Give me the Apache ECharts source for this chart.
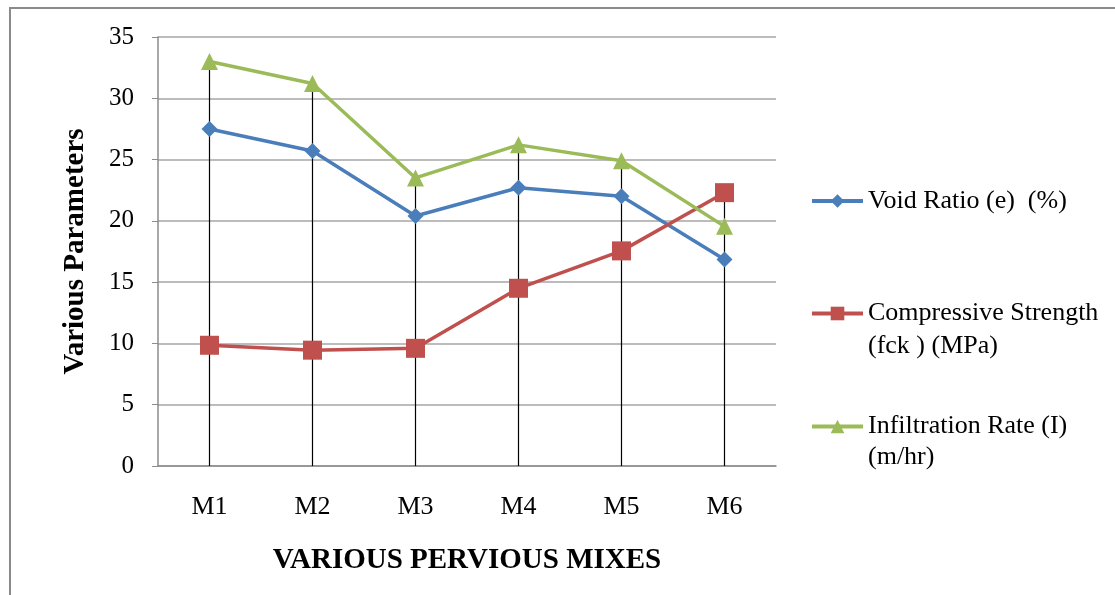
<!DOCTYPE html>
<html>
<head>
<meta charset="utf-8">
<script src="https://cdn.jsdelivr.net/npm/echarts@6/dist/echarts.min.js"></script>
<style>
html,body{margin:0;padding:0;background:#fff;}
#c{width:1115px;height:595px;}
</style>
</head>
<body>
<div id="c"></div>
<script>
const categories = ['M1', 'M2', 'M3', 'M4', 'M5', 'M6'];
const voidRatio = [27.5, 25.7, 20.4, 22.7, 22.0, 16.85];
const compressiveStrength = [9.85, 9.45, 9.6, 14.5, 17.55, 22.3];
const infiltrationRate = [33.0, 31.2, 23.5, 26.2, 24.9, 19.55];
const seriesNames = ['Void Ratio (e)  (%)', 'Compressive Strength (fck ) (MPa)', 'Infiltration Rate (I) (m/hr)'];
const legendLabels = ['Void Ratio (e)  (%)', ' \nCompressive Strength\n(fck ) (MPa)', ' \nInfiltration Rate (I)\n(m/hr)'];
const yTicks = [0, 5, 10, 15, 20, 25, 30, 35];

const dropHeights = categories.map((_, i) => Math.max(voidRatio[i], compressiveStrength[i], infiltrationRate[i]));

const FONT = '"Liberation Serif", "Times New Roman", serif';
const colors = ['#4a7ebb', '#c0504d', '#9bbb59'];

const chart = echarts.init(document.getElementById('c'), null, {renderer: 'canvas'});

function legendFor(idx, top, lh) {
  return {
    orient: 'vertical',
    left: 810,
    top: top,
    padding: 0,
    data: [seriesNames[idx]],
    itemWidth: 51,
    itemHeight: 17,
    itemGap: 0,
    selectedMode: false,
    lineStyle: {width: 4},
    formatter: () => legendLabels[idx],
    textStyle: {
      fontFamily: FONT,
      fontSize: 26,
      color: '#000',
      lineHeight: lh
    }
  };
}

chart.setOption({
  animation: false,
  backgroundColor: '#fff',
  graphic: [{
    type: 'rect',
    shape: {x: 10, y: 8, width: 1200, height: 700},
    style: {fill: 'none', stroke: '#8a8a8a', lineWidth: 2},
    silent: true
  }],
  legend: [
    legendFor(0, 186, 30),
    legendFor(1, 264, 33),
    legendFor(2, 380, 31)
  ],
  grid: {left: 158, right: 339, top: 37, bottom: 129},
  xAxis: {
    type: 'category',
    data: categories,
    boundaryGap: true,
    axisLine: {lineStyle: {color: '#8c8c8c', width: 1.5}},
    axisTick: {show: false},
    axisLabel: {fontFamily: FONT, fontSize: 26, color: '#000', margin: 28},
    name: 'VARIOUS PERVIOUS MIXES',
    nameLocation: 'middle',
    nameGap: 80,
    nameTextStyle: {fontFamily: FONT, fontSize: 29, fontWeight: 'bold', color: '#000'}
  },
  yAxis: {
    type: 'value',
    min: yTicks[0],
    max: yTicks[yTicks.length - 1],
    interval: yTicks[1] - yTicks[0],
    axisLine: {show: true, lineStyle: {color: '#8c8c8c', width: 1.5}},
    axisTick: {show: true, length: 6, lineStyle: {color: '#8c8c8c'}},
    axisLabel: {fontFamily: FONT, fontSize: 25, color: '#000', margin: 24},
    splitLine: {lineStyle: {color: '#a6a6a6', width: 1.5}},
    name: 'Various Parameters',
    nameLocation: 'middle',
    nameGap: 68,
    nameRotate: 90,
    nameTextStyle: {fontFamily: FONT, fontSize: 29, fontWeight: 'bold', color: '#000'}
  },
  series: [
    {
      name: 'drop',
      type: 'bar',
      data: dropHeights,
      barWidth: 1.2,
      itemStyle: {color: '#000'},
      silent: true,
      z: 1
    },
    {
      name: seriesNames[0], type: 'line', data: voidRatio,
      symbol: 'diamond', symbolSize: 16,
      lineStyle: {width: 3.5, color: colors[0]},
      itemStyle: {color: colors[0]}, z: 3
    },
    {
      name: seriesNames[1], type: 'line', data: compressiveStrength,
      symbol: 'rect', symbolSize: 19,
      lineStyle: {width: 3.5, color: colors[1]},
      itemStyle: {color: colors[1]}, z: 3
    },
    {
      name: seriesNames[2], type: 'line', data: infiltrationRate,
      symbol: 'triangle', symbolSize: 17,
      lineStyle: {width: 3.5, color: colors[2]},
      itemStyle: {color: colors[2]}, z: 3
    }
  ]
});
</script>
</body>
</html>
